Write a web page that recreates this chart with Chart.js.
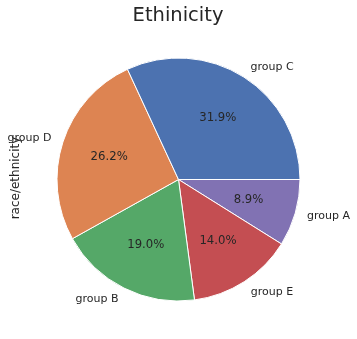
<!DOCTYPE html>
<html>
<head>
<meta charset="utf-8">
<script src="https://cdn.jsdelivr.net/npm/chart.js@4/dist/chart.umd.min.js"></script>
<style>
  html, body { margin: 0; padding: 0; background: #fff; }
  #wrap { width: 357px; height: 339px; position: relative; }
</style>
</head>
<body>
<div id="wrap"><canvas id="pie" width="357" height="339"></canvas></div>
<script>
// race/ethnicity shares, listed clockwise from 3 o'clock
var groups = ['group A', 'group E', 'group B', 'group D', 'group C'];
var shares = [8.9, 14.0, 19.0, 26.2, 31.9];
var colors = ['#8172b3', '#c44e52', '#55a868', '#dd8452', '#4c72b0'];

var textColor = '#262626';
var fontFam = '"DejaVu Sans", sans-serif';

var pieLabels = {
  id: 'pieLabels',
  afterDraw: function(chart) {
    var ctx = chart.ctx;
    var arcs = chart.getDatasetMeta(0).data;
    ctx.save();
    ctx.fillStyle = textColor;
    ctx.textBaseline = 'middle';
    arcs.forEach(function(arc, i) {
      var a = (arc.startAngle + arc.endAngle) / 2;
      var r = arc.outerRadius;
      var cx = arc.x, cy = arc.y;
      ctx.font = '11px ' + fontFam;
      // category name outside the wedge
      var lx = cx + 1.1 * r * Math.cos(a);
      var ly = cy + 1.1 * r * Math.sin(a);
      ctx.textAlign = Math.cos(a) >= 0 ? 'left' : 'right';
      ctx.fillText(groups[i], lx, ly);
      // percentage inside
      ctx.font = '11.7px ' + fontFam;
      ctx.textAlign = 'center';
      ctx.fillText(shares[i].toFixed(1) + '%', cx + 0.6 * r * Math.cos(a), cy + 0.6 * r * Math.sin(a));
    });
    // title
    ctx.font = '19.5px ' + fontFam;
    ctx.textAlign = 'center';
    ctx.fillText('Ethinicity', 178, 16);
    // y label
    ctx.translate(16, 178);
    ctx.rotate(-Math.PI / 2);
    ctx.font = '12px ' + fontFam;
    ctx.fillText('race/ethnicity', 0, 0);
    ctx.restore();
  }
};

new Chart(document.getElementById('pie').getContext('2d'), {
  type: 'pie',
  data: {
    labels: groups,
    datasets: [{
      data: shares,
      backgroundColor: colors,
      borderColor: '#ffffff',
      borderWidth: 1
    }]
  },
  options: {
    responsive: false,
    animation: false,
    rotation: 90,
    layout: { padding: { left: 56.5, right: 56.5, top: 57.5, bottom: 37.5 } },
    plugins: {
      legend: { display: false },
      tooltip: { enabled: false }
    }
  },
  plugins: [pieLabels]
});
</script>
</body>
</html>
